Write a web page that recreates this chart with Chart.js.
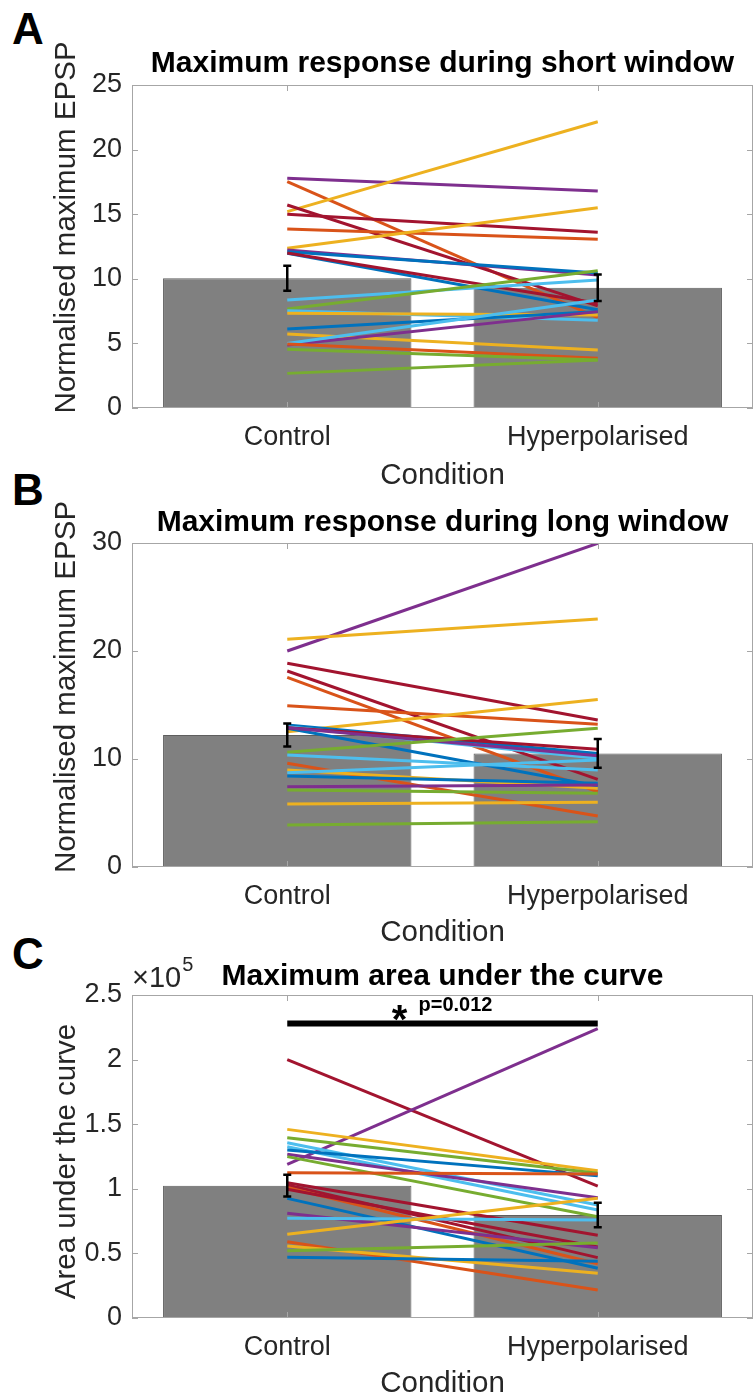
<!DOCTYPE html>
<html>
<head>
<meta charset="utf-8">
<script src="https://cdn.jsdelivr.net/npm/chart.js@4.4.1/dist/chart.umd.min.js"></script>
<style>
  body { margin: 0; background: #fff; width: 754px; height: 1399px; position: relative; overflow: hidden; }
  canvas { position: absolute; left: 0; }
  .panel-letter { position: absolute; left: 12px; font: bold 44px "Liberation Sans", Arial, sans-serif; line-height: 1; color: #000; }
</style>
</head>
<body>
<div class="panel-letter" style="top:7px">A</div>
<div class="panel-letter" style="top:468px">B</div>
<div class="panel-letter" style="top:932px">C</div>
<canvas id="chartA" width="754" height="500" style="top:0px"></canvas>
<canvas id="chartB" width="754" height="470" style="top:480px"></canvas>
<canvas id="chartC" width="754" height="459" style="top:940px"></canvas>
<script>
const categories = ["Control", "Hyperpolarised"];

// A - maximum response during short window
const meanA = [10.04, 9.31];
const semA = [0.97, 1.03];
const controlA = [17.78, 17.52, 15.2, 15.71, 14.99, 13.85, 12.36, 12.23, 12.1, 11.97, 12.0,
  8.36, 7.66, 7.53, 7.33, 6.11, 5.73, 4.88, 5.0, 4.95, 4.54, 2.68];
const hyperA = [16.8, 7.0, 22.16, 7.9, 13.6, 13.06, 15.5, 10.3, 10.45, 7.6, 8.1,
  9.9, 10.63, 6.8, 7.2, 7.46, 4.49, 7.46, 8.36, 3.85, 3.72, 3.72];

// B - maximum response during long window
const meanB = [12.22, 10.52];
const semB = [1.07, 1.33];
const controlB = [20.0, 21.08, 18.86, 18.15, 17.56, 14.94, 12.53, 13.15, 12.99, 12.84, 12.9,
  12.9, 10.62, 10.37, 9.6, 8.98, 8.73, 8.43, 7.44, 7.13, 5.83, 3.89];
const hyperB = [29.97, 22.96, 13.61, 8.12, 6.97, 13.21, 15.52, 10.52, 10.06, 7.5, 10.9,
  10.3, 12.84, 8.98, 4.72, 7.28, 9.9, 7.75, 7.6, 6.82, 5.99, 4.2];

// C - maximum area under the curve (units of 1e5)
const meanC = [1.024, 0.797];
const semC = [0.084, 0.095];
const controlC = [2.0, 1.19, 1.46, 1.396, 1.357, 1.326, 1.3, 1.267, 1.249, 1.125, 1.047,
  1.03, 1.01, 0.996, 0.926, 0.81, 0.772, 0.648, 0.59, 0.557, 0.52, 0.47];
const hyperC = [1.02, 2.24, 1.14, 1.12, 0.875, 0.836, 1.1, 0.93, 0.784, 1.114, 0.64,
  0.467, 0.42, 0.55, 0.385, 0.544, 0.758, 0.926, 0.217, 0.346, 0.58, 0.44];
const sigLevelC = 2.28;
const sigText = "p=0.012";

// line colours (MATLAB default order names)
const coloursA = ["purple", "orange", "yellow", "darkred", "darkred", "orange", "yellow", "purple", "blue", "blue", "darkred",
  "lightblue", "green", "lightblue", "yellow", "blue", "yellow", "purple", "lightblue", "orange", "green", "green"];
const coloursB = ["purple", "yellow", "darkred", "darkred", "orange", "orange", "yellow", "blue", "lightblue", "blue", "darkred",
  "purple", "green", "lightblue", "orange", "yellow", "lightblue", "blue", "purple", "green", "yellow", "green"];
const coloursC = ["darkred", "purple", "yellow", "green", "lightblue", "lightblue", "blue", "purple", "green", "orange", "darkred",
  "darkred", "orange", "darkred", "blue", "purple", "lightblue", "yellow", "orange", "yellow", "green", "blue"];

const palette = {
  blue: "#0072BD", orange: "#D95319", yellow: "#EDB120", purple: "#7E2F8E",
  green: "#77AC30", lightblue: "#4DBEEE", darkred: "#A2142F"
};

const FONT = '"Liberation Sans", Arial, Helvetica, sans-serif';
const TEXT = "#262626";
Chart.defaults.font.family = FONT;

// matlab style box with inward ticks
const framePlugin = {
  id: "frame",
  afterDraw(chart) {
    const { ctx, chartArea: a, scales } = chart;
    ctx.save();
    ctx.strokeStyle = "#a6a6a6";
    ctx.lineWidth = 1;
    ctx.strokeRect(a.left + 0.5, a.top + 0.5, a.right - a.left - 1, a.bottom - a.top - 1);
    ctx.beginPath();
    scales.y.ticks.forEach((t) => {
      const y = Math.round(scales.y.getPixelForValue(t.value)) + 0.5;
      ctx.moveTo(a.left, y); ctx.lineTo(a.left + 6, y);
      ctx.moveTo(a.right, y); ctx.lineTo(a.right - 6, y);
    });
    categories.forEach((_, i) => {
      const x = Math.round(scales.x.getPixelForValue(i)) + 0.5;
      ctx.moveTo(x, a.bottom); ctx.lineTo(x, a.bottom - 6);
      ctx.moveTo(x, a.top); ctx.lineTo(x, a.top + 6);
    });
    ctx.stroke();
    ctx.restore();
  }
};

// y label, placed like the matlab ylabel (slightly off the axis centre)
const yLabelPlugin = {
  id: "yLabel",
  afterDraw(chart, args, opts) {
    const { ctx, chartArea: a } = chart;
    ctx.save();
    ctx.translate(67, (a.top + a.bottom) / 2 + opts.shift);
    ctx.rotate(-Math.PI / 2);
    ctx.fillStyle = TEXT;
    ctx.font = "29.5px " + FONT;
    ctx.textAlign = "center";
    ctx.textBaseline = "middle";
    ctx.fillText(opts.text, 0, 0);
    ctx.restore();
  }
};

const errorBarPlugin = {
  id: "errorBars",
  afterDatasetsDraw(chart, args, opts) {
    const { ctx, scales } = chart;
    ctx.save();
    ctx.strokeStyle = "#000";
    ctx.lineWidth = 2.5;
    opts.mean.forEach((m, i) => {
      const x = scales.x.getPixelForValue(i);
      const yTop = scales.y.getPixelForValue(m + opts.sem[i]);
      const yBot = scales.y.getPixelForValue(m - opts.sem[i]);
      ctx.beginPath();
      ctx.moveTo(x, yTop); ctx.lineTo(x, yBot);
      ctx.moveTo(x - 4, yTop); ctx.lineTo(x + 4, yTop);
      ctx.moveTo(x - 4, yBot); ctx.lineTo(x + 4, yBot);
      ctx.stroke();
    });
    ctx.restore();
  }
};

const extrasPlugin = {
  id: "extras",
  afterDraw(chart, args, opts) {
    if (!opts.exponent) return;
    const { ctx, chartArea: a, scales } = chart;
    ctx.save();
    ctx.fillStyle = TEXT;
    ctx.textAlign = "left";
    ctx.textBaseline = "alphabetic";
    ctx.font = "29px " + FONT;
    ctx.fillText("\u00d710", a.left, a.top - 8);
    const w = ctx.measureText("\u00d710").width;
    ctx.font = "20px " + FONT;
    ctx.fillText("5", a.left + w + 1, a.top - 24);
    // significance label
    const mid = (scales.x.getPixelForValue(0) + scales.x.getPixelForValue(1)) / 2;
    const ySig = scales.y.getPixelForValue(opts.sigLevel);
    ctx.fillStyle = "#000";
    ctx.font = "bold 40px " + FONT;
    ctx.textAlign = "center";
    ctx.fillText("*", mid - 43, ySig + 10);
    ctx.font = "bold 20px " + FONT;
    ctx.textAlign = "left";
    ctx.fillText(opts.text, mid - 24, ySig - 12);
    ctx.restore();
  }
};

function makePanel(id, p) {
  const datasets = [{
    type: "bar",
    data: p.mean,
    backgroundColor: "#808080",
    borderColor: "#5e5e5e",
    borderWidth: 1,
    barPercentage: 0.8,
    categoryPercentage: 1.0,
    order: 100
  }];
  p.control.forEach((c, i) => {
    datasets.push({
      type: "line",
      data: [c, p.hyper[i]],
      borderColor: palette[p.colours[i]],
      borderWidth: 3,
      pointRadius: 0,
      fill: false,
      order: -i - 1
    });
  });
  if (p.sigLevel) {
    datasets.push({
      type: "line",
      data: [p.sigLevel, p.sigLevel],
      borderColor: "#000",
      borderWidth: 6,
      borderCapStyle: "butt",
      pointRadius: 0,
      order: -200
    });
  }

  new Chart(document.getElementById(id), {
    type: "bar",
    data: { labels: categories, datasets },
    plugins: [framePlugin, errorBarPlugin, extrasPlugin, yLabelPlugin],
    options: {
      responsive: false,
      animation: false,
      layout: { padding: { left: 0, right: 1, top: 0, bottom: 0 } },
      plugins: {
        legend: { display: false },
        tooltip: { enabled: false },
        title: {
          display: true,
          text: p.title,
          fullSize: false,
          color: "#000",
          font: { size: 30, weight: "bold", lineHeight: 1.2 },
          padding: { top: p.titleTop, bottom: p.titleBottom }
        },
        errorBars: { mean: p.mean, sem: p.sem },
        extras: { exponent: !!p.sigLevel, sigLevel: p.sigLevel, text: sigText },
        yLabel: { text: p.yTitle, shift: p.yTitleShift }
      },
      scales: {
        x: {
          type: "category",
          offset: true,
          grid: { display: false, drawTicks: false },
          border: { display: false },
          ticks: { padding: 13.5, color: TEXT, font: { size: 27 }, maxRotation: 0, autoSkip: false },
          title: { display: true, text: "Condition", color: TEXT, font: { size: 29.5, lineHeight: 1 }, padding: { top: 0, bottom: p.xTitleBottom } },
          afterFit: (s) => { s.height = p.xHeight; }
        },
        y: {
          min: 0,
          max: p.max,
          ticks: {
            stepSize: p.step, padding: 10, color: TEXT, font: { size: 27 },
            callback: (v) => String(+v.toFixed(2))
          },
          grid: { display: false, drawTicks: false },
          border: { display: false },
          afterFit: (s) => { s.width = 132; }
        }
      }
    }
  });
}

makePanel("chartA", {
  title: "Maximum response during short window",
  yTitle: "Normalised maximum EPSP", yTitleShift: -19,
  max: 25, step: 5,
  mean: meanA, sem: semA, control: controlA, hyper: hyperA, colours: coloursA,
  titleTop: 46, titleBottom: 3, xHeight: 92, xTitleBottom: 9
});
makePanel("chartB", {
  title: "Maximum response during long window",
  yTitle: "Normalised maximum EPSP", yTitleShift: -18,
  max: 30, step: 10,
  mean: meanB, sem: semB, control: controlB, hyper: hyperB, colours: coloursB,
  titleTop: 25, titleBottom: 2, xHeight: 83, xTitleBottom: 2
});
makePanel("chartC", {
  title: "Maximum area under the curve",
  yTitle: "Area under the curve", yTitleShift: 5,
  max: 2.5, step: 0.5,
  mean: meanC, sem: semC, control: controlC, hyper: hyperC, colours: coloursC,
  sigLevel: sigLevelC,
  titleTop: 19, titleBottom: 0, xHeight: 81, xTitleBottom: 0
});
</script>
</body>
</html>
